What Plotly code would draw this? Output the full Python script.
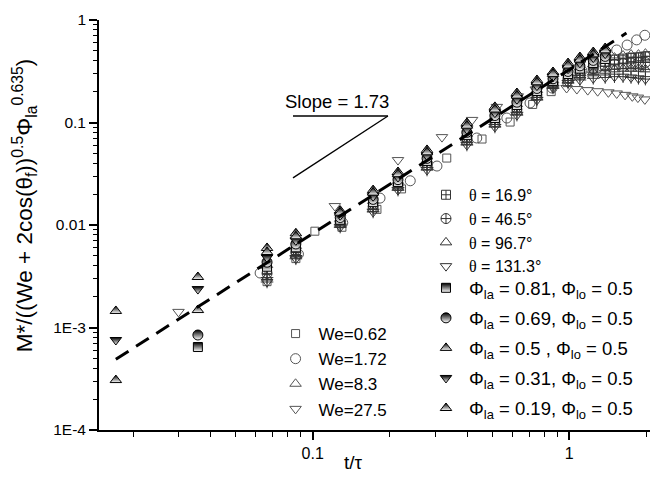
import plotly.graph_objects as go
import math

# ---------------- data ----------------
phi_t5 = [0.0171, 0.0357, 0.0664, 0.086, 0.128, 0.172, 0.215, 0.279, 0.399, 0.513, 0.625, 0.748, 0.864, 0.989, 1.10, 1.24, 1.38]
phi_t4 = [0.0357, 0.0664, 0.086, 0.128, 0.172, 0.215, 0.279, 0.399, 0.513, 0.625, 0.748, 0.864, 0.989, 1.10, 1.24, 1.38]
phi050_y = [1.45e-3, 3.11e-3, 5.97e-3, 8.3e-3, 0.0138, 0.0219, 0.0329, 0.054, 0.099, 0.142, 0.194, 0.26, 0.311, 0.38, 0.435, 0.487, 0.533]
phi019_y = [3.07e-4, 1.48e-3, 5.45e-3, 7.76e-3, 0.0132, 0.0207, 0.0313, 0.0512, 0.0931, 0.134, 0.183, 0.247, 0.298, 0.36, 0.411, 0.462, 0.506]
phi031_y = [7.55e-4, 2.37e-3, 4.82e-3, 7.08e-3, 0.01245, 0.0191, 0.0294, 0.0475, 0.0861, 0.1247, 0.169, 0.229, 0.281, 0.335, 0.382, 0.43, 0.47]
phi069_y = [8.45e-4, 4.34e-3, 6.53e-3, 0.01183, 0.0178, 0.0277, 0.0447, 0.0803, 0.117, 0.158, 0.215, 0.267, 0.315, 0.357, 0.404, 0.442]
phi081_y = [6.45e-4, 3.92e-3, 6.06e-3, 0.01127, 0.0167, 0.0263, 0.0422, 0.0753, 0.1107, 0.148, 0.203, 0.255, 0.297, 0.336, 0.381, 0.417]

theta_t = [0.0664, 0.086, 0.128, 0.172, 0.215, 0.279, 0.399, 0.513, 0.625, 0.748, 0.864, 0.989, 1.10, 1.24, 1.38, 1.50, 1.62, 1.74, 1.86, 1.98]
th169_y = [3.63e-3, 5.72e-3, 0.01087, 0.0159, 0.0253, 0.0403, 0.0716, 0.1057, 0.1406, 0.194, 0.247, 0.284, 0.32, 0.36, 0.39, 0.41, 0.42, 0.43, 0.43, 0.44]
th465_y = [3.37e-3, 5.4e-3, 0.01047, 0.0151, 0.0243, 0.0386, 0.0682, 0.1012, 0.134, 0.186, 0.238, 0.272, 0.305, 0.335, 0.355, 0.37, 0.375, 0.38, 0.385, 0.385]
th967_y = [3.07e-3, 5.04e-3, 0.01002, 0.0143, 0.0231, 0.0365, 0.0643, 0.0957, 0.126, 0.176, 0.2275, 0.257, 0.288, 0.31, 0.32, 0.33, 0.335, 0.335, 0.335, 0.33]
th1313_y = [2.78e-3, 4.68e-3, 9.55e-3, 0.0134, 0.0219, 0.0344, 0.0603, 0.0904, 0.118, 0.166, 0.217, 0.243, 0.26, 0.27, 0.275, 0.28, 0.28, 0.275, 0.27, 0.265]

we83_t = theta_t
we83_y = [4.07e-3, 6.24e-3, 0.01148, 0.0171, 0.0269, 0.0431, 0.0771, 0.113, 0.151, 0.2075, 0.26, 0.303, 0.344, 0.37, 0.40, 0.43, 0.45, 0.46, 0.46, 0.47]
we172_t = [0.0624, 0.088, 0.131, 0.183, 0.24, 0.305, 0.436, 0.571, 0.703, 0.857, 1.0, 1.12, 1.25, 1.39, 1.53, 1.68, 1.83, 1.97]
we172_y = [3.4e-3, 5.2e-3, 0.0105, 0.0183, 0.027, 0.0376, 0.0706, 0.1106, 0.155, 0.217, 0.27, 0.32, 0.38, 0.44, 0.51, 0.57, 0.64, 0.71]
we062_t = [0.0664, 0.086, 0.102, 0.13, 0.178, 0.222, 0.333, 0.457, 0.588, 0.72, 0.85, 0.98, 1.11, 1.24, 1.37, 1.50, 1.63, 1.76, 1.89, 2.02]
we062_y = [2.8e-3, 4.7e-3, 8.7e-3, 9.5e-3, 0.0142, 0.0225, 0.045, 0.069, 0.101, 0.15, 0.2, 0.245, 0.29, 0.33, 0.36, 0.39, 0.41, 0.43, 0.44, 0.45]
we275_t = [0.030, 0.122, 0.215, 0.319, 0.418, 0.522, 0.63, 0.74, 0.86, 0.976, 1.07, 1.18, 1.29, 1.42, 1.53, 1.65, 1.76, 1.85, 1.97]
we275_y = [1.42e-3, 0.0153, 0.043, 0.072, 0.106, 0.142, 0.18, 0.21, 0.225, 0.217, 0.212, 0.207, 0.202, 0.197, 0.192, 0.186, 0.18, 0.175, 0.168]

fit_t = [0.0171, 1.67]
fit_y = [4.9e-4, 0.745]
slope_h_t = [0.0838, 0.1965]
slope_h_y = [0.1157, 0.1157]
slope_d_t = [0.0838, 0.1965]
slope_d_y = [0.0288, 0.1157]

y_tickvals = [1e-4, 1e-3, 1e-2, 1e-1, 1]
y_ticktext = ["1E-4", "1E-3", "0.01", "0.1", "1"]
x_tickvals = [0.1, 1]
x_ticktext = ["0.1", "1"]

FONT = "Liberation Sans, Arial, sans-serif"
GRAY = "#555555"
DARK = "#333333"

fig = go.Figure()

def add(t, y, name, symbol, color, size, legend, fill=None, grad=False, showlegend=True, group=None):
    marker = dict(symbol=symbol, size=size, color=fill if fill else color,
                  line=dict(color=color, width=1))
    if grad:
        marker["gradient"] = dict(type="vertical", color="white")
    fig.add_trace(go.Scatter(x=t, y=y, mode="markers", name=name, marker=marker,
                             legend=legend, showlegend=showlegend, legendgroup=group))

# We series
add(we062_t, we062_y, "We=0.62", "square-open", GRAY, 8, "legend")
add(we172_t, we172_y, "We=1.72", "circle-open", GRAY, 10, "legend")
add(we83_t, we83_y, "We=8.3", "triangle-up-open", GRAY, 10, "legend")
add(we275_t, we275_y, "We=27.5", "triangle-down-open", GRAY, 10, "legend")

TH = '<span style="font-family:Liberation Serif">θ</span>'
deg = "°"
add(theta_t, th169_y, f"{TH} = 16.9{deg}", "square-cross-open", DARK, 9, "legend2")
add(theta_t, th465_y, f"{TH} = 46.5{deg}", "circle-cross-open", DARK, 10, "legend2")
add(theta_t, th967_y, f"{TH} = 96.7{deg}", "triangle-up-open", DARK, 10, "legend2")
add(theta_t, th967_y, "", "cross-thin-open", DARK, 9, "legend2", showlegend=False)
add(theta_t, th1313_y, f"{TH} = 131.3{deg}", "triangle-down-open", DARK, 10, "legend2")
add(theta_t, th1313_y, "", "cross-thin-open", DARK, 9, "legend2", showlegend=False)

P = "Φ<sub>la</sub>"
Q = "Φ<sub>lo</sub>"
add(phi_t4, phi081_y, f"{P} = 0.81, {Q} = 0.5", "square", "black", 9, "legend3", fill="black", grad=True, group="p1")
add(phi_t4, phi069_y, f"{P} = 0.69, {Q} = 0.5", "circle", "black", 10, "legend3", fill="black", grad=True, group="p2")
add(phi_t5, phi050_y, f"{P} = 0.5 , {Q} = 0.5", "triangle-up", "black", 10, "legend3", fill="black", grad=True, group="p3")
add(phi_t5, phi031_y, f"{P} = 0.31, {Q} = 0.5", "triangle-down", "black", 10, "legend3", fill="black", grad=True, group="p4")
add(phi_t5, phi019_y, f"{P} = 0.19, {Q} = 0.5", "triangle-up", "black", 10, "legend3", fill="black", grad=True, group="p5")

# fit line and slope triangle
fig.add_trace(go.Scatter(x=fit_t, y=fit_y, mode="lines", showlegend=False,
                         line=dict(color="black", width=3, dash="15px,9px")))
fig.add_trace(go.Scatter(x=slope_h_t, y=slope_h_y, mode="lines", showlegend=False,
                         line=dict(color="black", width=1.3)))
fig.add_trace(go.Scatter(x=slope_d_t, y=slope_d_y, mode="lines", showlegend=False,
                         line=dict(color="black", width=1.3)))

y_minor = [k * 10.0 ** d for d in range(-4, 0) for k in range(2, 10)]
x_minor = [k * 10.0 ** d for d in (-2, -1) for k in range(2, 10)] + [2]

fig.update_xaxes(type="log", range=[math.log10(0.0147), math.log10(2.063)],
                 tickvals=x_tickvals, ticktext=x_ticktext, ticks="outside", ticklen=8,
                 tickwidth=1.5, tickcolor="black", showline=True, linecolor="black",
                 linewidth=1.8, showgrid=False, zeroline=False,
                 tickfont=dict(family=FONT, size=16, color="black"),
                 minor=dict(tickvals=x_minor, ticks="outside", ticklen=5, tickwidth=1.3,
                            tickcolor="black", showgrid=False))
fig.update_yaxes(type="log", range=[-4, 0],
                 tickvals=y_tickvals, ticktext=y_ticktext, ticks="outside", ticklen=8,
                 tickwidth=1.5, tickcolor="black", showline=True, linecolor="black",
                 linewidth=1.8, showgrid=False, zeroline=False,
                 tickfont=dict(family=FONT, size=15.5, color="black"),
                 minor=dict(tickvals=y_minor, ticks="outside", ticklen=4, tickwidth=1.3,
                            tickcolor="black", showgrid=False))

fig.update_layout(
    width=650, height=479,
    margin=dict(l=99, r=0, t=20, b=49),
    paper_bgcolor="white", plot_bgcolor="white",
    font=dict(family=FONT, color="black"),
    legend=dict(x=0.315, y=0.278, xanchor="left", yanchor="top", bgcolor="rgba(0,0,0,0)",
                font=dict(family=FONT, size=17, color="black"), tracegroupgap=0, itemwidth=36),
    legend2=dict(x=0.588, y=0.615, xanchor="left", yanchor="top", bgcolor="rgba(0,0,0,0)",
                 font=dict(family=FONT, size=16, color="black"), tracegroupgap=0, itemwidth=36),
    legend3=dict(x=0.588, y=0.392, xanchor="left", yanchor="top", bgcolor="rgba(0,0,0,0)",
                 font=dict(family=FONT, size=18.5, color="black"), tracegroupgap=3, itemwidth=36),
    annotations=[
        dict(text="M*/((We + 2cos(θ<sub>f</sub>))<sup>0.5</sup>Φ<sub>la</sub><sup>0.635</sup>)",
             xref="paper", yref="paper", x=-0.135, y=0.547, textangle=-90,
             showarrow=False, font=dict(family=FONT, size=22.5, color="black"),
             xanchor="center", yanchor="middle"),
        dict(text="t/τ", xref="paper", yref="paper", x=0.461, y=-0.08,
             showarrow=False, font=dict(family=FONT, size=19, color="black"),
             xanchor="center", yanchor="middle"),
        dict(text="Slope = 1.73", xref="x", yref="y", x=math.log10(0.1245), y=math.log10(0.162),
             showarrow=False, font=dict(family=FONT, size=18.5, color="black"),
             xanchor="center", yanchor="middle"),
    ],
)

fig.write_html("out.html")
